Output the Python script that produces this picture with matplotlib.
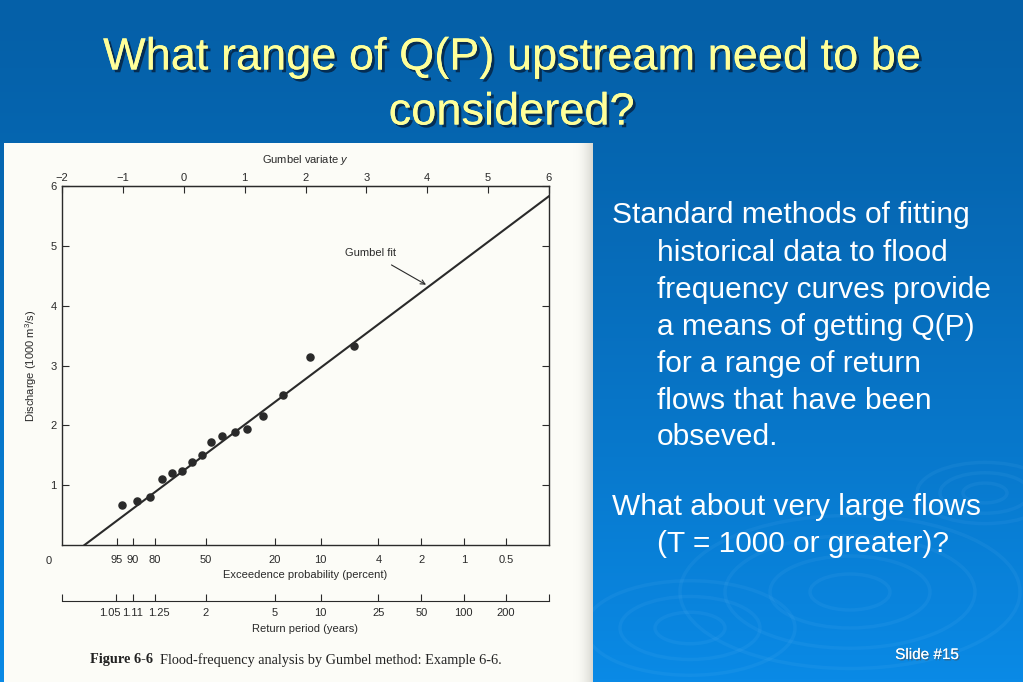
import numpy as np
import matplotlib.pyplot as plt
from matplotlib.patches import Rectangle, Ellipse
import matplotlib.patheffects as pe
import matplotlib.transforms as mtransforms

plt.rcParams['font.family'] = ['Liberation Sans', 'DejaVu Sans']
plt.rcParams['mathtext.fontset'] = 'custom'
plt.rcParams['mathtext.rm'] = 'Liberation Sans'
plt.rcParams['mathtext.it'] = 'Liberation Sans:italic'

# data
gumbel_y = [-1.02, -0.76, -0.55, -0.36, -0.20, -0.03, 0.13, 0.30, 0.45,
            0.63, 0.84, 1.04, 1.30, 1.63, 2.08, 2.79]
discharge = [0.67, 0.74, 0.80, 1.10, 1.20, 1.23, 1.39, 1.50, 1.72,
             1.83, 1.89, 1.94, 2.15, 2.50, 3.15, 3.32]
fit_y = [-1.63, 6.0]
fit_q = [0.0, 5.83]

top_ticks = [-2, -1, 0, 1, 2, 3, 4, 5, 6]
exceed_pct = [95, 90, 80, 50, 20, 10, 4, 2, 1, 0.5]
exceed_labels = ['95', '90', '80', '50', '20', '10', '4', '2', '1', '0.5']
return_T = [1.05, 1.11, 1.25, 2, 5, 10, 25, 50, 100, 200]
return_labels = ['1.05', '1.11', '1.25', '2', '5', '10', '25', '50', '100', '200']

title_lines = ['What range of Q(P) upstream need to be', 'considered?']
body_lines = [
    (612, 215, 'Standard methods of fitting'),
    (657, 253, 'historical data to flood'),
    (657, 290, 'frequency curves provide'),
    (657, 327, 'a means of getting Q(P)'),
    (657, 364, 'for a range of return'),
    (657, 401, 'flows that have been'),
    (657, 437, 'obseved.'),
    (612, 507, 'What about very large flows'),
    (657, 544, '(T = 1000 or greater)?'),
]


def gumbel_from_exceed(p):
    return -np.log(-np.log(1 - p))


W, H = 1023, 682
fig = plt.figure(figsize=(W / 100, H / 100), dpi=100)

# slide background
bg = fig.add_axes([0, 0, 1, 1])
bg.set_xlim(0, W)
bg.set_ylim(H, 0)
bg.axis('off')
top = np.array([0x05, 0x60, 0xa8]) / 255
bot = np.array([0x0a, 0x8a, 0xe6]) / 255
t = np.linspace(0, 1, 200)[:, None, None] ** 1.3
grad = top * (1 - t) + bot * t
grad = np.repeat(grad, 2, axis=1)
bg.imshow(grad, extent=(0, W, H, 0), aspect='auto', zorder=0)
# faint ripples
for cx, cy, rads in [(850, 592, [40, 80, 125, 170]),
                     (690, 628, [35, 70, 105]),
                     (985, 493, [22, 45, 68])]:
    for r in rads:
        bg.add_patch(Ellipse((cx, cy), 2 * r, 0.9 * r, fill=False,
                             ec='#8fd0ff', lw=2.5, alpha=0.07, zorder=1))
# paper
bg.add_patch(Rectangle((4, 143), 589, 540, fc='#fcfcf7', ec='none', zorder=2))
shade = np.linspace(0, 1, 50)[None, :, None] ** 2
paper = np.array([0xfc, 0xfc, 0xf7]) / 255
grey = np.array([0xd8, 0xd8, 0xd2]) / 255
bg.imshow(np.repeat(paper * (1 - shade) + grey * shade, 2, axis=0),
          extent=(573, 593, H, 143), aspect='auto', zorder=3)

# title
shadow = [pe.withSimplePatchShadow(offset=(2, -2), shadow_rgbFace='#06284a', alpha=0.9),
          pe.Normal()]
for i, line in enumerate(title_lines):
    bg.text(W / 2, 58 + 55 * i, line, color='#ffff99', fontsize=32.5,
            ha='center', va='center', zorder=5, path_effects=shadow)

for x, y, line in body_lines:
    bg.text(x, y, line, color='white', fontsize=21.5, ha='left', va='center', zorder=5)

bg.text(927, 655, 'Slide #15', color='white', fontsize=11, ha='center', va='center',
        zorder=5, path_effects=[pe.withSimplePatchShadow(offset=(1, -1), alpha=0.6),
                                pe.Normal()])

# the Gumbel plot
ink = '#2a2a2a'
fs = 8
ax = fig.add_axes([62 / W, 1 - 545 / H, 487 / W, 359 / H])
ax.set_facecolor('none')
ax.set_xlim(-2, 6)
ax.set_ylim(0, 6)
ax.plot(fit_y, fit_q, color=ink, lw=1.5)
ax.scatter(gumbel_y, discharge, s=26, color=ink, zorder=3)
for s in ax.spines.values():
    s.set_color(ink)
    s.set_linewidth(1.0)

ex_pos = [gumbel_from_exceed(p / 100) for p in exceed_pct]
ax.set_xticks(ex_pos)
ax.set_xticklabels(exceed_labels)
ax.set_yticks([1, 2, 3, 4, 5, 6])
ax.tick_params(axis='both', direction='in', length=5, width=0.8, color=ink,
               labelsize=fs, labelcolor=ink)
ax.tick_params(axis='x', pad=7)
ax.tick_params(axis='y', right=True, pad=4)
ax.set_xlabel('Exceedence probability (percent)', fontsize=fs, color=ink, labelpad=4)
ax.set_ylabel('Discharge (1000 m$^3$/s)', fontsize=fs, color=ink, labelpad=8)
ax.text(-0.028, -0.03, '0', transform=ax.transAxes, fontsize=fs, color=ink,
        ha='center', va='top')

sec = ax.secondary_xaxis('top')
sec.set_xticks(top_ticks)
sec.tick_params(direction='in', length=5, width=0.8, color=ink, labelsize=fs,
                labelcolor=ink, pad=2)
sec.set_xlabel('Gumbel variate $\\it{y}$', fontsize=fs, color=ink, labelpad=7)

ax.annotate('Gumbel fit', xy=(3.98, 4.35), xytext=(3.07, 4.88), fontsize=fs,
            color=ink, ha='center', va='center',
            arrowprops=dict(arrowstyle='->', color=ink, lw=0.8,
                            shrinkA=6, shrinkB=0))

# return period scale
ax2 = fig.add_axes([62 / W, 1 - 601 / H, 487 / W, 0.02])
ax2.set_facecolor('none')
ax2.set_xlim(-2, 6)
for k in ['left', 'right', 'top']:
    ax2.spines[k].set_visible(False)
ax2.spines['bottom'].set_color(ink)
ax2.set_yticks([])
ax2.set_xticks([gumbel_from_exceed(1 / T) for T in return_T])
ax2.set_xticklabels(return_labels)
ax2.set_xticks([-2, 6], minor=True)
ax2.tick_params(axis='x', which='both', direction='in', length=5, width=0.8,
                color=ink, labelsize=fs, labelcolor=ink, pad=5)
ax2.set_xlabel('Return period (years)', fontsize=fs, color=ink, labelpad=4)
# the three crowded labels are spread a little, as in the print
shifts = [-6, 0, 4]
for lab, dx in zip(ax2.get_xticklabels()[:3], shifts):
    lab.set_transform(lab.get_transform() +
                      mtransforms.ScaledTranslation(dx / 100, 0, fig.dpi_scale_trans))

# caption
cap_font = ['Liberation Serif', 'DejaVu Serif']
bg.text(90, 660, 'Figure 6-6', family=cap_font, fontweight='bold', fontsize=10.3,
        color='#222', ha='left', va='center', zorder=5)
bg.text(160, 660, 'Flood-frequency analysis by Gumbel method: Example 6-6.',
        family=cap_font, fontsize=10.3, color='#222', ha='left', va='center', zorder=5)

fig.savefig('out.png', dpi=100)
